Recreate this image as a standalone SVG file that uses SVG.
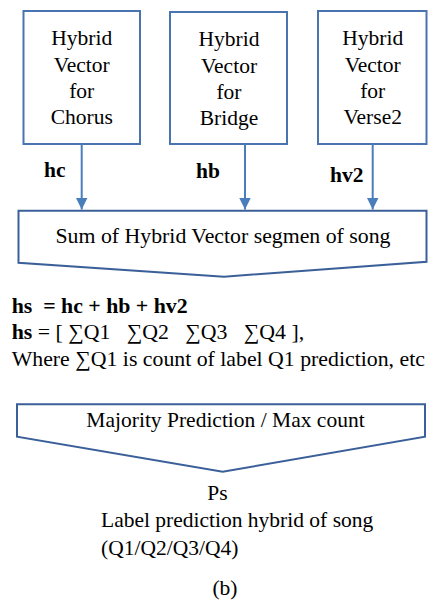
<svg xmlns="http://www.w3.org/2000/svg" width="428" height="603" viewBox="0 0 428 603" font-family="Liberation Serif, serif" font-size="21.5">
  <defs>
    <marker id="arrow" viewBox="0 0 12 12" refX="12" refY="6" markerWidth="12" markerHeight="12" markerUnits="userSpaceOnUse" orient="auto">
      <path d="M0,0 L12,6 L0,12 Z" fill="#4a7ebb"/>
    </marker>
  </defs>
  <g id="chorus">
    <rect x="23.5" y="11" width="116.5" height="133" fill="#ffffff" stroke="#4a74b0" stroke-width="2"/>
    <text x="81.7" y="45" text-anchor="middle" font-family="Liberation Serif">Hybrid</text>
    <text x="81.7" y="71.5" text-anchor="middle" font-family="Liberation Serif">Vector</text>
    <text x="81.7" y="98" text-anchor="middle" font-family="Liberation Serif">for</text>
    <text x="81.7" y="124" text-anchor="middle" font-family="Liberation Serif">Chorus</text>
  </g>
  <g id="bridge">
    <rect x="170" y="12" width="117" height="132" fill="#ffffff" stroke="#4a74b0" stroke-width="2"/>
    <text x="229" y="46" text-anchor="middle" font-family="Liberation Serif">Hybrid</text>
    <text x="229" y="72.5" text-anchor="middle" font-family="Liberation Serif">Vector</text>
    <text x="229" y="99" text-anchor="middle" font-family="Liberation Serif">for</text>
    <text x="229" y="125" text-anchor="middle" font-family="Liberation Serif">Bridge</text>
  </g>
  <g id="verse2">
    <rect x="318" y="11" width="108.5" height="133" fill="#ffffff" stroke="#4a74b0" stroke-width="2"/>
    <text x="372.7" y="45" text-anchor="middle" font-family="Liberation Serif">Hybrid</text>
    <text x="372.7" y="71.5" text-anchor="middle" font-family="Liberation Serif">Vector</text>
    <text x="372.7" y="98" text-anchor="middle" font-family="Liberation Serif">for</text>
    <text x="372.7" y="124" text-anchor="middle" font-family="Liberation Serif">Verse2</text>
  </g>
  <g id="connectors">
    <line x1="81.7" y1="144" x2="81.7" y2="209.5" stroke="#4a7ebb" stroke-width="2" marker-end="url(#arrow)"/>
    <line x1="245" y1="144" x2="245" y2="209.5" stroke="#4a7ebb" stroke-width="2" marker-end="url(#arrow)"/>
    <line x1="372.7" y1="144" x2="372.7" y2="209.5" stroke="#4a7ebb" stroke-width="2" marker-end="url(#arrow)"/>
    <text x="44" y="177" font-weight="bold" font-family="Liberation Serif">hc</text>
    <text x="196" y="178" font-weight="bold" font-family="Liberation Serif">hb</text>
    <text x="330" y="182" font-weight="bold" font-family="Liberation Serif">hv2</text>
  </g>
  <g id="sum">
    <path d="M18.5,210.7 L426.5,210.7 L426.5,261.7 L224,276.7 L18.5,262.7 Z" fill="#ffffff" stroke="#3b6099" stroke-width="2"/>
    <text x="223" y="243.3" text-anchor="middle" font-size="21.8" font-family="Liberation Serif">Sum of Hybrid Vector segmen of song</text>
  </g>
  <g id="equations">
    <text x="11.7" y="313" font-weight="bold" font-size="21.8" font-family="Liberation Serif" xml:space="preserve">hs  = hc + hb + hv2</text>
    <text x="11.7" y="339" font-size="21.8" font-family="Liberation Serif" xml:space="preserve"><tspan font-weight="bold">hs</tspan> = [ ∑Q1   ∑Q2   ∑Q3   ∑Q4 ],</text>
    <text x="11.7" y="365.7" font-size="21.8" font-family="Liberation Serif">Where ∑Q1 is count of label Q1 prediction, etc</text>
  </g>
  <g id="majority">
    <path d="M17,404.3 L425,404.3 L425,436.7 L222.7,471.7 L17,436.7 Z" fill="#ffffff" stroke="#3b6099" stroke-width="2"/>
    <text x="225.5" y="426.7" text-anchor="middle" font-family="Liberation Serif">Majority Prediction / Max count</text>
  </g>
  <g id="output">
    <text x="217.5" y="500" text-anchor="middle" font-family="Liberation Serif">Ps</text>
    <text x="101" y="527.3" font-family="Liberation Serif">Label prediction hybrid of song</text>
    <text x="101" y="555" font-family="Liberation Serif">(Q1/Q2/Q3/Q4)</text>
  </g>
  <text x="225" y="595" text-anchor="middle" font-family="Liberation Serif">(b)</text>
</svg>
